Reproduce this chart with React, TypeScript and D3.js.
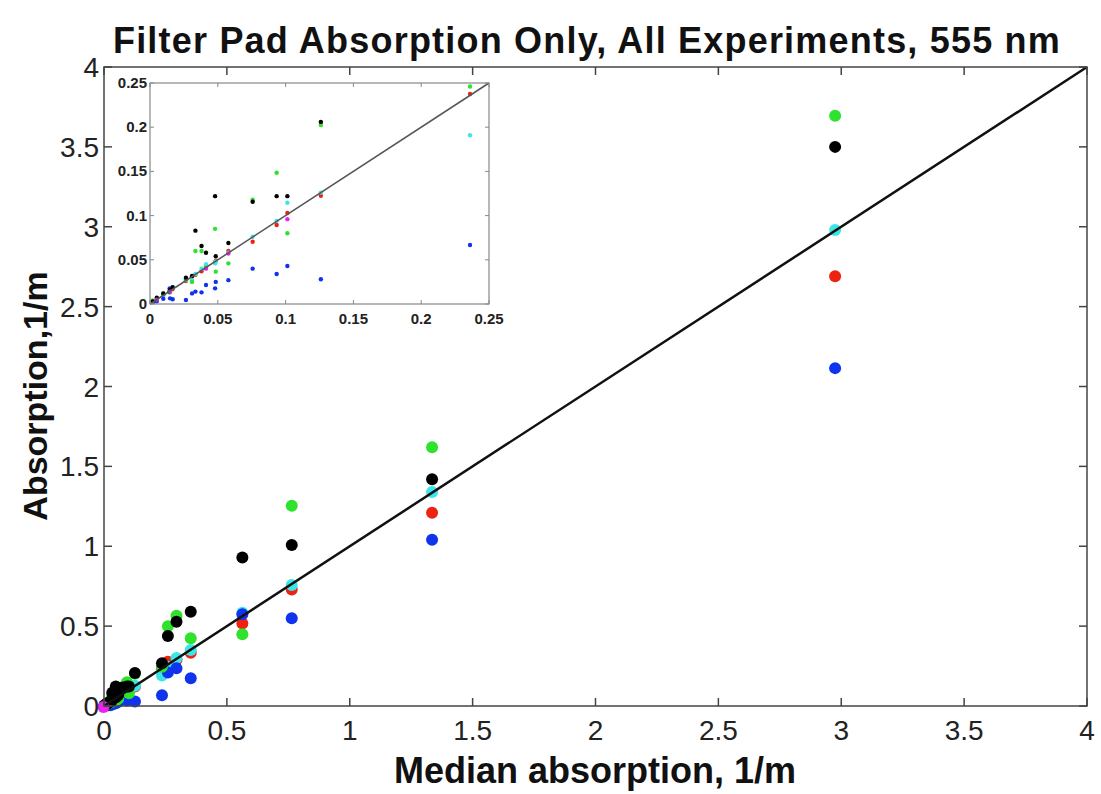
import React from "react";
import * as d3 from "d3";

// Median absorption (x) per experiment, 1/m
const medianX = [0.002, 0.005, 0.0098, 0.0145, 0.0148, 0.0167, 0.0265, 0.031, 0.0335, 0.038, 0.0413, 0.048, 0.0485, 0.0578, 0.0757, 0.0934, 0.1013, 0.126, 0.236, 0.26, 0.295, 0.353, 0.563, 0.764, 1.335, 2.975];
// Absorption per method (y), 1/m
const redVals = [0.002, 0.005, 0.010, 0.014, 0.015, 0.017, 0.026, 0.031, 0.033, 0.037, 0.042, 0.047, 0.049, 0.060, 0.0705, 0.0894, 0.103, 0.1225, 0.2375, 0.277, 0.29, 0.334, 0.517, 0.73, 1.21, 2.69];
const cyanVals = [0.002, 0.005, 0.010, 0.015, 0.016, 0.019, 0.027, 0.027, 0.034, 0.040, 0.045, 0.046, 0.048, 0.058, 0.076, 0.094, 0.1146, 0.126, 0.191, 0.245, 0.30, 0.35, 0.584, 0.757, 1.34, 2.98];
const blueVals = [0.001, 0.003, 0.006, 0.0177, 0.0064, 0.0053, 0.0045, 0.012, 0.014, 0.0132, 0.0215, 0.0177, 0.025, 0.027, 0.040, 0.034, 0.043, 0.028, 0.0667, 0.21, 0.236, 0.173, 0.575, 0.55, 1.04, 2.115];
const greenVals = [0.004, 0.006, 0.012, 0.013, 0.015, 0.018, 0.028, 0.025, 0.060, 0.060, 0.041, 0.085, 0.0366, 0.046, 0.118, 0.1485, 0.080, 0.2025, 0.246, 0.50, 0.565, 0.424, 0.449, 1.254, 1.62, 3.695];
const blackVals = [0.003, 0.007, 0.012, 0.014, 0.016, 0.019, 0.0298, 0.0317, 0.083, 0.0656, 0.058, 0.122, 0.054, 0.069, 0.1157, 0.122, 0.122, 0.206, 0.267, 0.438, 0.528, 0.59, 0.93, 1.008, 1.42, 3.50];
const magentaVals = [0.0, 0.005, null, null, 0.014, null, null, null, null, null, 0.040, null, null, 0.057, null, null, 0.096, null, null, null, null, null, null, null, null, null];

const seriesList = [
  { name: "red", color: "#ee2211", values: redVals },
  { name: "cyan", color: "#3ce6e6", values: cyanVals },
  { name: "blue", color: "#1034ee", values: blueVals },
  { name: "green", color: "#2ee22e", values: greenVals },
  { name: "black", color: "#000000", values: blackVals },
  { name: "magenta", color: "#ee22ee", values: magentaVals },
];

const mainTicks = [0, 0.5, 1, 1.5, 2, 2.5, 3, 3.5, 4];
const mainTickLabels = ["0", "0.5", "1", "1.5", "2", "2.5", "3", "3.5", "4"];
const insetTicks = [0, 0.05, 0.1, 0.15, 0.2, 0.25];
const insetTickLabels = ["0", "0.05", "0.1", "0.15", "0.2", "0.25"];

const FONT = "'Liberation Sans', Arial, Helvetica, sans-serif";

export default function App() {
  const W = 1101, H = 794;
  const x = d3.scaleLinear().domain([0, 4]).range([104, 1087]);
  const y = d3.scaleLinear().domain([0, 4]).range([706, 67]);
  const ix = d3.scaleLinear().domain([0, 0.25]).range([150, 489]);
  const iy = d3.scaleLinear().domain([0, 0.25]).range([304, 83]);

  const line = d3.line<number>().x((d) => x(d)).y((d) => y(d));
  const iline = d3.line<number>().x((d) => ix(d)).y((d) => iy(d));

  const underPts: any[] = [];
  const mainPts: any[] = [];
  const topPts: any[] = [];
  const insetPts: any[] = [];
  seriesList.forEach((s) => {
    s.values.forEach((v, i) => {
      if (v === null || v === undefined) return;
      const p = { cx: x(medianX[i]), cy: y(v), color: s.color, key: s.name + i };
      if (s.name === "magenta") {
        if (v < 0.003) topPts.push(p);
        else underPts.push(p);
      } else mainPts.push(p);
      if (medianX[i] <= 0.25 && v <= 0.25) {
        insetPts.push({ cx: ix(medianX[i]), cy: iy(v), color: s.color, key: s.name + i });
      }
    });
  });

  const tl = 8;
  const itl = 4;

  return (
    <svg width={W} height={H} style={{ position: "absolute", left: 0, top: 0, background: "#fff" }} fontFamily={FONT}>
      <rect x={0} y={0} width={W} height={H} fill="#fff" />
      {/* Title */}
      <text x={587} y={53} textAnchor="middle" fontSize={36} fontWeight="bold" fill="#111" letterSpacing={1.2}>
        Filter Pad Absorption Only, All Experiments, 555 nm
      </text>

      {/* Main points */}
      <g>
        {underPts.map((p) => (
          <circle key={p.key} cx={p.cx} cy={p.cy} r={6} fill={p.color} />
        ))}
        {mainPts.map((p) => (
          <circle key={p.key} cx={p.cx} cy={p.cy} r={6} fill={p.color} />
        ))}
        {topPts.map((p) => (
          <circle key={p.key} cx={p.cx - 1} cy={p.cy + 1} r={6} fill={p.color} />
        ))}
      </g>
      {/* 1:1 line */}
      <path d={line([0, 4]) as string} stroke="#111" strokeWidth={2.5} fill="none" />

      {/* Main frame */}
      <rect x={x(0)} y={y(4)} width={x(4) - x(0)} height={y(0) - y(4)} fill="none" stroke="#444" strokeWidth={1.5} />
      {mainTicks.map((t, i) => (
        <g key={"mt" + i} stroke="#444" strokeWidth={1.5}>
          <line x1={x(t)} x2={x(t)} y1={y(0)} y2={y(0) - tl} />
          <line x1={x(t)} x2={x(t)} y1={y(4)} y2={y(4) + tl} />
          <line x1={x(0)} x2={x(0) + tl} y1={y(t)} y2={y(t)} />
          <line x1={x(4)} x2={x(4) - tl} y1={y(t)} y2={y(t)} />
        </g>
      ))}
      {mainTicks.map((t, i) => (
        <text key={"mxl" + i} x={x(t)} y={740} textAnchor="middle" fontSize={28} fill="#222">
          {mainTickLabels[i]}
        </text>
      ))}
      {mainTicks.map((t, i) => (
        <text key={"myl" + i} x={99} y={y(t) + 10} textAnchor="end" fontSize={28} fill="#222">
          {mainTickLabels[i]}
        </text>
      ))}
      <text x={595} y={783} textAnchor="middle" fontSize={36} fontWeight="bold" fill="#111">
        Median absorption, 1/m
      </text>
      <text transform="translate(47,396) rotate(-90)" textAnchor="middle" fontSize={34} fontWeight="bold" fill="#111">
        Absorption,1/m
      </text>

      {/* Inset */}
      <g>
        <rect x={ix(0)} y={iy(0.25)} width={ix(0.25) - ix(0)} height={iy(0) - iy(0.25)} fill="#fff" />
        <clipPath id="insetClip">
          <rect x={ix(0) - 3} y={iy(0.25) - 3} width={ix(0.25) - ix(0) + 6} height={iy(0) - iy(0.25) + 3} />
        </clipPath>
        <g clipPath="url(#insetClip)">
          {insetPts.map((p) => (
            <circle key={"i" + p.key} cx={p.cx} cy={p.cy} r={2.2} fill={p.color} />
          ))}
        </g>
        <path d={iline([0, 0.25]) as string} stroke="#555" strokeWidth={1.5} fill="none" />
        <rect x={ix(0)} y={iy(0.25)} width={ix(0.25) - ix(0)} height={iy(0) - iy(0.25)} fill="none" stroke="#888" strokeWidth={1.2} />
        {insetTicks.map((t, i) => (
          <g key={"it" + i} stroke="#888" strokeWidth={1}>
            <line x1={ix(t)} x2={ix(t)} y1={iy(0)} y2={iy(0) - itl} />
            <line x1={ix(t)} x2={ix(t)} y1={iy(0.25)} y2={iy(0.25) + itl} />
            <line x1={ix(0)} x2={ix(0) + itl} y1={iy(t)} y2={iy(t)} />
            <line x1={ix(0.25)} x2={ix(0.25) - itl} y1={iy(t)} y2={iy(t)} />
          </g>
        ))}
        {insetTicks.map((t, i) => (
          <text key={"ixl" + i} x={ix(t)} y={324} textAnchor="middle" fontSize={15} fontWeight="bold" fill="#222">
            {insetTickLabels[i]}
          </text>
        ))}
        {insetTicks.map((t, i) => (
          <text key={"iyl" + i} x={147} y={iy(t) + 5} textAnchor="end" fontSize={15} fontWeight="bold" fill="#222">
            {insetTickLabels[i]}
          </text>
        ))}
      </g>
    </svg>
  );
}
